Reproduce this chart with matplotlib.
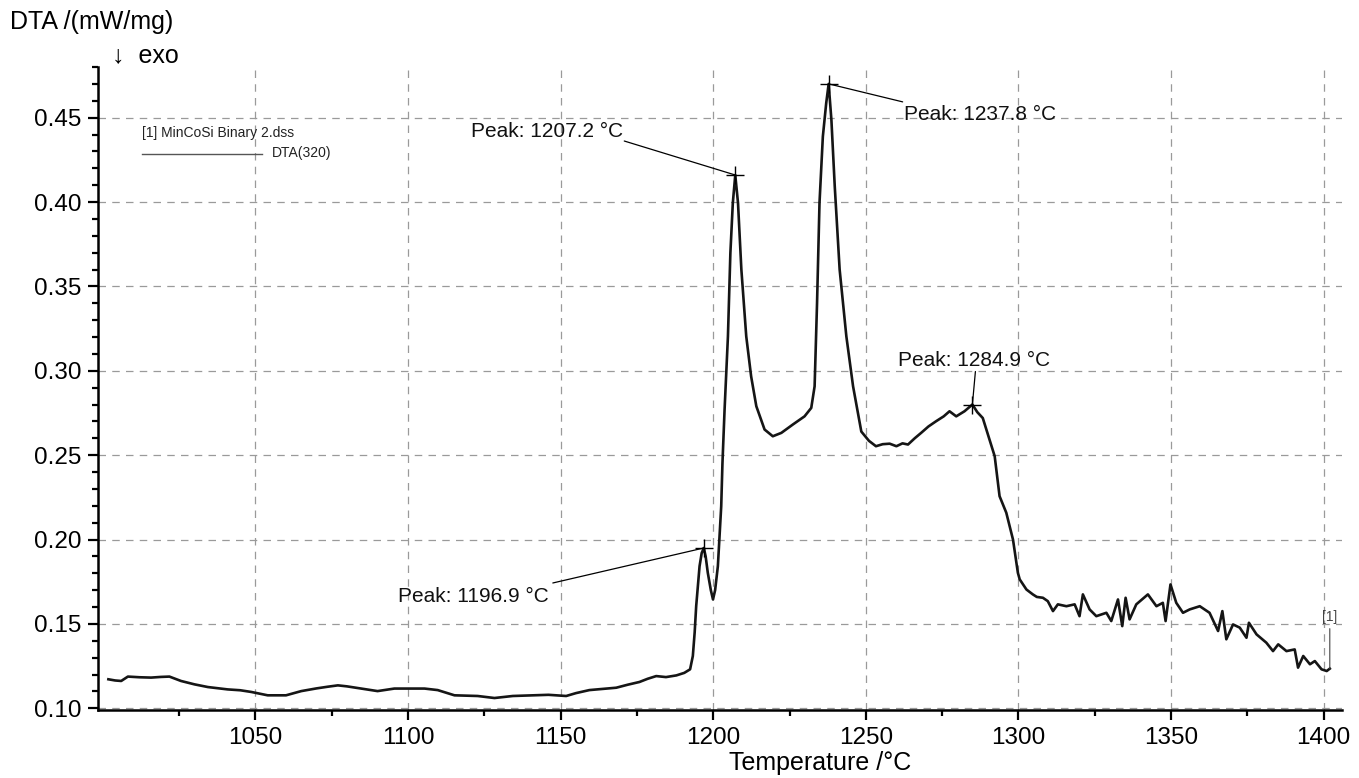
import matplotlib
matplotlib.use("Agg")
import matplotlib.pyplot as plt
from matplotlib.ticker import FixedLocator, MultipleLocator, FormatStrFormatter

plt.rcParams['font.family'] = ['Liberation Sans', 'DejaVu Sans']

temperature = [
    1001.8, 1004.0, 1006.0, 1008.2, 1012.0, 1015.8, 1019.0, 1021.8, 1025.6, 1030.0,
    1034.4, 1040.9, 1045.0, 1048.6, 1051.0, 1054.0, 1060.0, 1065.0, 1070.0, 1073.7,
    1077.0, 1080.0, 1084.6, 1090.0, 1095.5, 1100.0, 1105.4, 1109.7, 1115.2, 1122.8,
    1128.3, 1134.3, 1140.9, 1146.0, 1151.8, 1155.0, 1159.4, 1164.0, 1168.2, 1172.0,
    1175.8, 1178.5, 1181.3, 1184.5, 1187.9, 1190.5, 1192.4, 1193.3, 1193.9, 1194.4,
    1195.5, 1196.2, 1196.9, 1197.5, 1198.2, 1199.2, 1199.9, 1200.6, 1201.5, 1202.0,
    1202.6, 1203.0, 1203.7, 1204.8, 1205.6, 1206.4, 1207.2, 1208.1, 1209.2, 1210.8,
    1212.4, 1214.1, 1216.8, 1219.5, 1222.3, 1226.1, 1229.9, 1232.1, 1233.2, 1234.0,
    1234.8, 1235.9, 1237.0, 1237.8, 1238.7, 1239.8, 1241.4, 1243.6, 1245.8, 1248.5,
    1251.0, 1253.3, 1255.5, 1257.8, 1260.0, 1262.0, 1263.8, 1266.0, 1268.1, 1270.5,
    1273.0, 1275.5, 1277.4, 1279.6, 1282.3, 1284.9, 1286.5, 1288.3, 1290.5, 1292.2,
    1293.8, 1296.0, 1298.2, 1299.8, 1300.4, 1302.6, 1304.7, 1306.0, 1308.0, 1309.6,
    1311.3, 1312.9, 1315.7, 1318.4, 1320.0, 1321.1, 1323.3, 1325.5, 1328.8, 1330.4,
    1332.6, 1334.0, 1335.1, 1336.4, 1338.6, 1342.4, 1345.2, 1347.3, 1348.2, 1349.8,
    1351.7, 1353.9, 1356.1, 1359.4, 1362.6, 1365.4, 1366.8, 1368.1, 1370.3, 1372.5,
    1374.7, 1375.5, 1378.0, 1381.2, 1383.4, 1385.1, 1387.8, 1390.5, 1391.6, 1393.3,
    1395.5, 1397.1, 1399.3, 1401.0, 1402.0,
]
dta = [
    0.1172, 0.1165, 0.1162, 0.1188, 0.1184, 0.1182, 0.1186, 0.1188, 0.1162, 0.1142,
    0.1126, 0.1112, 0.1107, 0.1097, 0.1088, 0.1077, 0.1077, 0.1102, 0.1118, 0.1128,
    0.1136, 0.1130, 0.1117, 0.1102, 0.1117, 0.1117, 0.1117, 0.1108, 0.1077, 0.1073,
    0.1061, 0.1073, 0.1077, 0.1080, 0.1073, 0.1090, 0.1108, 0.1115, 0.1122, 0.1140,
    0.1156, 0.1175, 0.1191, 0.1185, 0.1195, 0.1210, 0.1231, 0.1310, 0.1450, 0.1606,
    0.1842, 0.1920, 0.1950, 0.1900, 0.1803, 0.1700, 0.1645, 0.1700, 0.1842, 0.2000,
    0.2198, 0.2450, 0.2770, 0.3204, 0.3698, 0.3994, 0.4160, 0.3994, 0.3600, 0.3204,
    0.2967, 0.2790, 0.2652, 0.2612, 0.2632, 0.2682, 0.2730, 0.2780, 0.2908, 0.3402,
    0.3994, 0.4388, 0.4586, 0.4700, 0.4487, 0.4092, 0.3600, 0.3204, 0.2908, 0.2640,
    0.2585, 0.2553, 0.2565, 0.2568, 0.2553, 0.2570, 0.2563, 0.2600, 0.2632, 0.2670,
    0.2701, 0.2730, 0.2760, 0.2730, 0.2760, 0.2800, 0.2755, 0.2720, 0.2593, 0.2494,
    0.2257, 0.2159, 0.2000, 0.1803, 0.1764, 0.1704, 0.1675, 0.1660, 0.1655, 0.1635,
    0.1576, 0.1616, 0.1605, 0.1616, 0.1546, 0.1675, 0.1586, 0.1546, 0.1566, 0.1517,
    0.1645, 0.1487, 0.1655, 0.1527, 0.1616, 0.1675, 0.1605, 0.1625, 0.1517, 0.1734,
    0.1625, 0.1566, 0.1586, 0.1605, 0.1566, 0.1458, 0.1576, 0.1409, 0.1497, 0.1478,
    0.1418, 0.1507, 0.1438, 0.1389, 0.1339, 0.1379, 0.1339, 0.1349, 0.1241, 0.1310,
    0.1261, 0.1280, 0.1231, 0.1221, 0.1235,
]

peak_temps = [1196.9, 1207.2, 1237.8, 1284.9]
peak_values = [0.195, 0.416, 0.470, 0.280]
peak_labels = ["Peak: 1196.9 \u00b0C", "Peak: 1207.2 \u00b0C", "Peak: 1237.8 \u00b0C", "Peak: 1284.9 \u00b0C"]

x_major = [1050, 1100, 1150, 1200, 1250, 1300, 1350, 1400]
y_major = [0.10, 0.15, 0.20, 0.25, 0.30, 0.35, 0.40, 0.45]

fig = plt.figure(figsize=(13.59, 7.78), dpi=100)
ax = fig.add_axes([98 / 1359, 1 - 710 / 778, (1342 - 98) / 1359, (710 - 67) / 778])

ax.plot(temperature, dta, color='#151515', lw=1.9, zorder=3)
ax.plot(peak_temps, peak_values, linestyle='none', marker='+', markersize=13,
        markeredgewidth=1.0, color='black', zorder=4)

# annotation geometry in pixels: (line end dx, dy), (text dx, dy), ha
ann_geom = [((-151, 35), (-155, 49), 'right'),
            ((-111, -34), (-112, -44), 'right'),
            ((74, 18), (75, 31), 'left'),
            ((3, -33), (2, -44), 'center')]
for t, v, lab, (le, te, ha) in zip(peak_temps, peak_values, peak_labels, ann_geom):
    ax.annotate('', xy=(t, v), xytext=(le[0], -le[1]), textcoords='offset pixels',
                arrowprops=dict(arrowstyle='-', lw=0.9, color='black', shrinkA=0, shrinkB=0))
    ax.annotate(lab, xy=(t, v), xytext=(te[0], -te[1]), textcoords='offset pixels',
                ha=ha, va='center', fontsize=15, color='#111111')

# end marker [1]
ax.annotate('', xy=(temperature[-1], dta[-1]), xytext=(0, 40), textcoords='offset pixels',
            arrowprops=dict(arrowstyle='-', lw=0.8, color='#444444', shrinkA=0, shrinkB=0))
ax.annotate('[1]', xy=(temperature[-1], dta[-1]), xytext=(0, 52), textcoords='offset pixels',
            ha='center', va='center', fontsize=10, color='#444444')

ax.set_xlim(998.4, 1406)
ax.set_ylim(0.099, 0.48)
ax.xaxis.set_major_locator(FixedLocator(x_major))
ax.xaxis.set_minor_locator(FixedLocator([1025, 1075, 1125, 1175, 1225, 1275, 1325, 1375]))
ax.yaxis.set_major_locator(FixedLocator(y_major))
ax.yaxis.set_minor_locator(MultipleLocator(0.01))
ax.yaxis.set_major_formatter(FormatStrFormatter('%.2f'))

ax.grid(True, which='major', linestyle=(0, (6, 5)), color='#9a9a9a', lw=0.9)
ax.set_axisbelow(True)
for s in ['top', 'right']:
    ax.spines[s].set_visible(False)
for s in ['left', 'bottom']:
    ax.spines[s].set_linewidth(1.8)
ax.tick_params(which='major', direction='out', length=7, width=1.6, labelsize=17.5, pad=5)
ax.tick_params(which='minor', direction='out', length=4, width=1.6)

# legend-like header
fig.text(142 / 1359, 1 - 133 / 778, '[1] MinCoSi Binary 2.dss', fontsize=10, va='center', ha='left', color='#222222')
fig.add_artist(plt.Line2D([142 / 1359, 262 / 1359], [1 - 154 / 778, 1 - 154 / 778], color='#555555', lw=1.0))
fig.text(272 / 1359, 1 - 153 / 778, 'DTA(320)', fontsize=10, va='center', ha='left', color='#222222')

fig.text(10 / 1359, 1 - 22 / 778, 'DTA /(mW/mg)', fontsize=18, va='center', ha='left')
fig.text(112 / 1359, 1 - 55 / 778, '\u2193  exo', fontsize=18, va='center', ha='left')
fig.text(820 / 1359, 1 - 763 / 778, 'Temperature /\u00b0C', fontsize=18, va='center', ha='center')

fig.savefig('out.png', dpi=100)
